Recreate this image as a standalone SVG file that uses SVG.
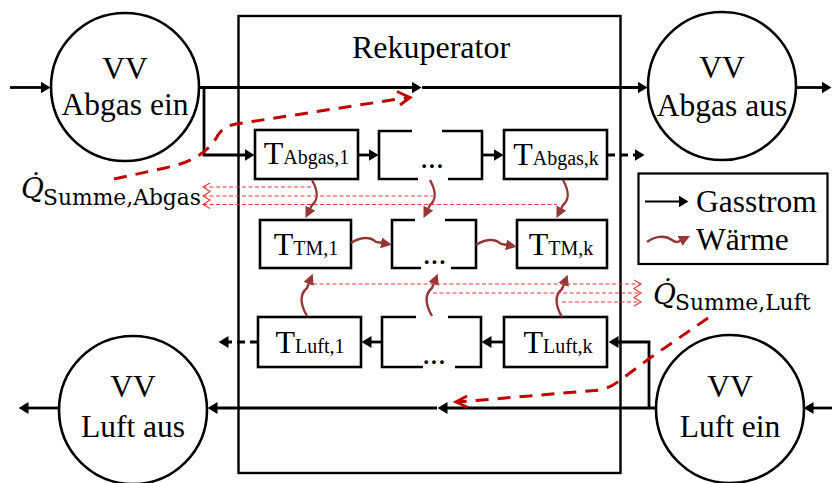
<svg xmlns="http://www.w3.org/2000/svg" width="832" height="483" viewBox="0 0 832 483">
<defs>
<style>
text{font-family:"Liberation Serif","Times New Roman",serif;fill:#000}
.lbl{font-size:31.5px;text-anchor:middle}
.sub{font-size:20px}
.node{fill:#fff;stroke:#000;stroke-width:2.6}
.frame{fill:none;stroke:#000;stroke-width:2.4}
.br{fill:none;stroke:#000;stroke-width:2.6}
.flow{fill:none;stroke:#000;stroke-width:2.8;marker-end:url(#ah)}
.dflow{fill:none;stroke:#000;stroke-width:2.8;stroke-dasharray:8 5;marker-end:url(#ah)}
.heat{fill:none;stroke:#953735;stroke-width:2.4;marker-end:url(#hh)}
.qline{fill:none;stroke:#e8383d;stroke-width:1.1;stroke-dasharray:4 2.5}
.qzig{fill:none;stroke:#e8383d;stroke-width:1.1}
.sum{fill:none;stroke:#c00000;stroke-width:3;stroke-dasharray:13 9}
.sumhead{fill:none;stroke:#c00000;stroke-width:3;stroke-linejoin:miter}
.math{font-family:"DejaVu Serif",serif}
</style>
<marker id="ah" markerUnits="userSpaceOnUse" markerWidth="10" markerHeight="12" refX="0.5" refY="6" orient="auto">
<path d="M0,0L10,6L0,12z" fill="#000"/>
</marker>
<marker id="hh" markerUnits="userSpaceOnUse" markerWidth="11" markerHeight="11" refX="1" refY="5.5" orient="auto">
<path d="M0,0L11,5.5L0,11z" fill="#953735"/>
</marker>
<!-- wavy heat-transfer stroke shapes -->
<path id="wDown" d="M0,0 C6,11 7,19 0,25 L-2,29"/>
<path id="wUp" d="M0,0 C-7,-12 -7,-22 0,-28 L2,-33"/>
<path id="wRight" d="M0,0 C9,-6 19,-7 25,-1 L31,0"/>
</defs>

<rect width="832" height="483" fill="#fff"/>

<!-- recuperator frame -->
<g id="rekuperator">
<rect class="frame" x="238.5" y="16" width="382" height="457"/>
<text class="lbl" x="431" y="58" style="font-size:32px">Rekuperator</text>
</g>

<!-- volume elements -->
<g id="vv-abgas-ein">
<circle class="node" cx="125" cy="87" r="74"/>
<text class="lbl" x="125" y="79">VV</text>
<text class="lbl" x="125" y="115">Abgas ein</text>
</g>
<g id="vv-abgas-aus">
<circle class="node" cx="722" cy="86" r="74"/>
<text class="lbl" x="722" y="78">VV</text>
<text class="lbl" x="722" y="116">Abgas aus</text>
</g>
<g id="vv-luft-aus">
<circle class="node" cx="133" cy="410" r="74"/>
<text class="lbl" x="133" y="397">VV</text>
<text class="lbl" x="133" y="437">Luft aus</text>
</g>
<g id="vv-luft-ein">
<circle class="node" cx="730" cy="409" r="74"/>
<text class="lbl" x="730" y="397">VV</text>
<text class="lbl" x="730" y="437">Luft ein</text>
</g>

<!-- exhaust gas row -->
<g id="t-abgas-1">
<rect class="node" x="255" y="130" width="103" height="49"/>
<text class="lbl" x="306.5" y="164" style="font-size:32px">T<tspan class="sub">Abgas,1</tspan></text>
</g>
<g id="abgas-mid">
<path class="br" d="M412,131H379V179H418M442,131H482V179H448"/>
<text class="lbl" x="432" y="168">...</text>
</g>
<g id="t-abgas-k">
<rect class="node" x="504" y="130" width="103" height="49"/>
<text class="lbl" x="556" y="165" style="font-size:32px">T<tspan class="sub">Abgas,k</tspan></text>
</g>

<!-- thermal mass row -->
<g id="t-tm-1">
<rect class="node" x="260" y="220" width="91" height="48"/>
<text class="lbl" x="306" y="255" style="font-size:32px">T<tspan class="sub">TM,1</tspan></text>
</g>
<g id="tm-mid">
<path class="br" d="M415,220H392V268H421M445,220H476V268H451"/>
<text class="lbl" x="434.5" y="264">...</text>
</g>
<g id="t-tm-k">
<rect class="node" x="517" y="220" width="90" height="48"/>
<text class="lbl" x="561" y="255" style="font-size:32px">T<tspan class="sub">TM,k</tspan></text>
</g>

<!-- air row -->
<g id="t-luft-1">
<rect class="node" x="258" y="317" width="103" height="50"/>
<text class="lbl" x="310" y="353" style="font-size:32px">T<tspan class="sub">Luft,1</tspan></text>
</g>
<g id="luft-mid">
<path class="br" d="M416,317H382V367H423M448,317H481V367H455"/>
<text class="lbl" x="434" y="364">...</text>
</g>
<g id="t-luft-k">
<rect class="node" x="504" y="317" width="103" height="50"/>
<text class="lbl" x="558" y="353" style="font-size:32px">T<tspan class="sub">Luft,k</tspan></text>
</g>

<!-- heat flow sums -->
<g id="q-summe-abgas">
<text class="math" x="21" y="198" style="font-size:28px"><tspan font-style="italic">Q̇</tspan><tspan x="43" y="205" style="font-size:21.8px">Summe,Abgas</tspan></text>
</g>
<g id="q-summe-luft">
<text class="math" x="653" y="304" style="font-size:28px"><tspan font-style="italic">Q̇</tspan><tspan x="675" y="310" style="font-size:21.8px">Summe,Luft</tspan></text>
</g>

<!-- legend -->
<g id="legend">
<rect class="frame" x="638.5" y="173.5" width="189" height="90.5" style="stroke-width:2.2"/>
<path d="M645,201.5H679" style="fill:none;stroke:#000;stroke-width:2;marker-end:url(#ah)"/>
<text x="696" y="212" style="font-size:31.5px">Gasstrom</text>
<path class="heat" d="M647,242 C655,236 665,235 672,240 C676,243 678,242 681,240.5"/>
<text x="696" y="250" style="font-size:31.5px">Wärme</text>
</g>

<g id="connectors">
<!-- exhaust gas path -->
<path class="flow" d="M10,87.5H41"/>
<path class="flow" d="M199,87.5H412"/>
<path class="flow" d="M422,87.5H638"/>
<path class="flow" d="M796,87.5H822"/>
<path class="flow" d="M204,87.5V155H245"/>
<path class="flow" d="M358,155H369"/>
<path class="flow" d="M482,155H494"/>
<path class="dflow" d="M607,155H635"/>

<!-- air path -->
<path class="flow" d="M832,408H813"/>
<path class="flow" d="M656,408H447"/>
<path class="flow" d="M437,408H217"/>
<path class="flow" d="M59,408H28"/>
<path class="flow" d="M649,408V342H618"/>
<path class="flow" d="M504,342H491"/>
<path class="flow" d="M382,342H371"/>
<path class="dflow" d="M258,342H228"/>

<!-- heat transfer exhaust to mass -->
<use href="#wDown" class="heat" transform="translate(312,180)"/>
<use href="#wDown" class="heat" transform="translate(430,180)"/>
<use href="#wDown" class="heat" transform="translate(563,180)"/>
<!-- heat conduction along the mass -->
<use href="#wRight" class="heat" transform="translate(351,243)"/>
<use href="#wRight" class="heat" transform="translate(476,245)"/>
<!-- heat transfer mass to air -->
<use href="#wUp" class="heat" transform="translate(307,316)"/>
<use href="#wUp" class="heat" transform="translate(432,316)"/>
<use href="#wUp" class="heat" transform="translate(562,317)"/>

<!-- collected heat flows, exhaust side -->
<path class="qline" d="M203,187H313M203,196H433M203,204.5H557"/>
<path class="qzig" d="M210,183L203,187L210,191.5L203,196L210,200L203,204.5L210,208.5"/>
<!-- collected heat flows, air side -->
<path class="qline" d="M313,284H641M433,293H641M562,302H641"/>
<path class="qzig" d="M634,280L641,284L634,288.5L641,293L634,297.5L641,302L634,306"/>

<!-- summed heat flow arrows -->
<path class="sum" d="M114,179 L165,168 Q205,160 218,135 Q224,126 236,124 L408,97.5"/>
<path class="sumhead" d="M397,91.5L410,97.5L400,105"/>
<path class="sum" d="M708,318 L650,358 L619,381 Q610,388 600,390 L458,402"/>
<path class="sumhead" d="M467,396L456,402L468,407.5"/>
</g>
</svg>
